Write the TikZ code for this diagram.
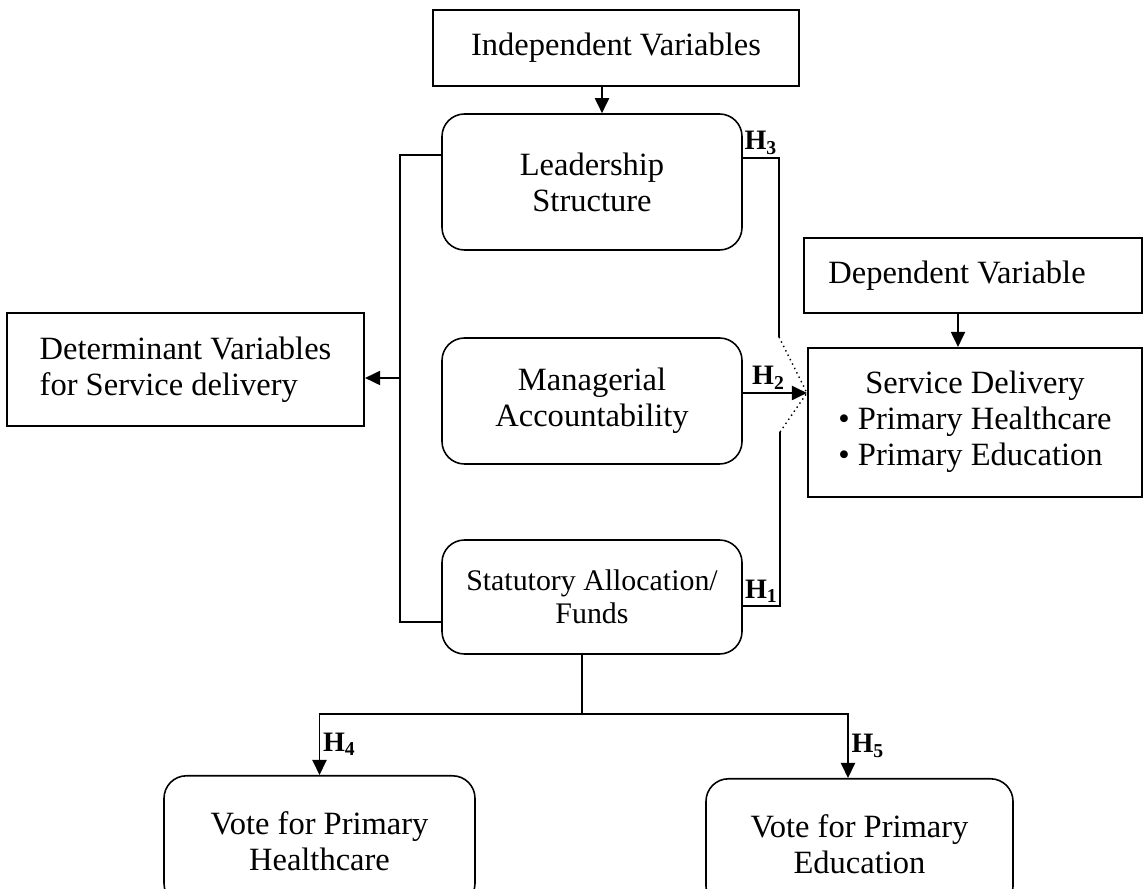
\documentclass[tikz,border=0pt]{standalone}
\usepackage{fontspec}
\setmainfont{Liberation Serif}
\usetikzlibrary{arrows.meta}

\begin{document}
\begin{tikzpicture}[
    varbox/.style={draw,line width=1.2pt,align=center,inner sep=0,font=\boxfontsize},
    roundbox/.style={draw,line width=0.9pt,rounded corners=4.5mm,align=center,inner sep=0,minimum width=6cm,font=\boxfontsize},
    link/.style={line width=0.8pt},
    arr/.style={line width=1.1pt,-{Triangle[length=3mm,width=2.8mm]}},
    hyp/.style={font=\hypfontsize,inner sep=1.5pt}
]
    \providecommand{\boxfontsize}{\fontsize{18.5}{20.5}\selectfont}
    \providecommand{\smallboxfontsize}{\fontsize{17}{19}\selectfont}
    \providecommand{\hypfontsize}{\fontsize{16}{18}\selectfont\bfseries}
    \useasboundingbox (0,0) rectangle (22.86,17.78);
    % variable boxes
    \node[varbox,minimum width=7.32cm,minimum height=1.52cm] (indep) at (12.32,16.82) {Independent Variables};
    \node[varbox,minimum width=6.76cm,minimum height=1.5cm] (depvar) at (19.46,12.27) {Dependent Variable\hspace*{6.4mm}};
    \node[varbox,minimum width=7.14cm,minimum height=2.26cm,align=left] (determ) at (3.71,10.39) {Determinant Variables\\for Service delivery};
    \node[varbox,minimum width=6.68cm,minimum height=2.98cm] (servdel) at (19.5,9.33)
    {\begin{tabular}{@{}l@{}}\multicolumn{1}{@{}c@{}}{Service Delivery}\\\textbullet\ Primary Healthcare\\\textbullet\ Primary Education\end{tabular}};
    % determinants
    \node[roundbox,minimum height=2.72cm] (lead) at (11.84,14.14) {Leadership\\Structure};
    \node[roundbox,minimum height=2.52cm] (manag) at (11.84,9.76) {Managerial\\Accountability};
    \node[roundbox,minimum height=2.28cm,font=\smallboxfontsize] (stat) at (11.84,5.84) {Statutory Allocation/\\Funds};
    \node[roundbox,minimum width=6.22cm,minimum height=2.6cm,anchor=north] (hvote) at (6.39,2.28) {Vote for Primary\\Healthcare};
    \node[roundbox,minimum width=6.14cm,minimum height=2.6cm,anchor=north] (evote) at (17.19,2.22) {Vote for Primary\\Education};
    % connectors
    \coordinate (tip) at ([yshift=5.9mm]servdel.west);
    \coordinate (brk) at (8.0,10.22);
    \coordinate (hthree) at (15.58,11.04);
    \coordinate (hone) at (15.60,9.14);
    \coordinate (split) at (11.64,3.5);
    \draw[arr] ([xshift=2mm]lead.north |- indep.south) -- ([xshift=2mm]lead.north);
    \draw[arr] ([xshift=-3mm]depvar.south) -- ([xshift=-3mm]depvar.south |- servdel.north);
    \draw[link] ([yshift=5.4mm]lead.west) -| (brk) |- ([yshift=-5mm]stat.west);
    \draw[arr] (brk) -- (brk -| determ.east);
    \draw[arr] (manag.east |- tip) -- node[hyp,above,pos=.4] (htwo) {H\textsubscript{2}} (tip);
    \draw[link] ([yshift=4.8mm]lead.east) -| node[hyp,above,pos=.25] (hthreelbl) {H\textsubscript{3}} (hthree);
    \draw[link,dotted] (hthree) -- (tip);
    \draw[link] ([yshift=-1.8mm]stat.east) -| node[hyp,above,pos=.25] (honelbl) {H\textsubscript{1}} (hone);
    \draw[link,dotted] (hone) -- (tip);
    \draw[link] (split |- stat.south) -- (split);
    \draw[arr] (split) -| node[hyp,right,pos=.75] (hfour) {H\textsubscript{4}} (hvote.north);
    \draw[arr] (split) -| node[hyp,right,pos=.75] (hfive) {H\textsubscript{5}} ([xshift=-2.3mm]evote.north);
\end{tikzpicture}
\end{document}
